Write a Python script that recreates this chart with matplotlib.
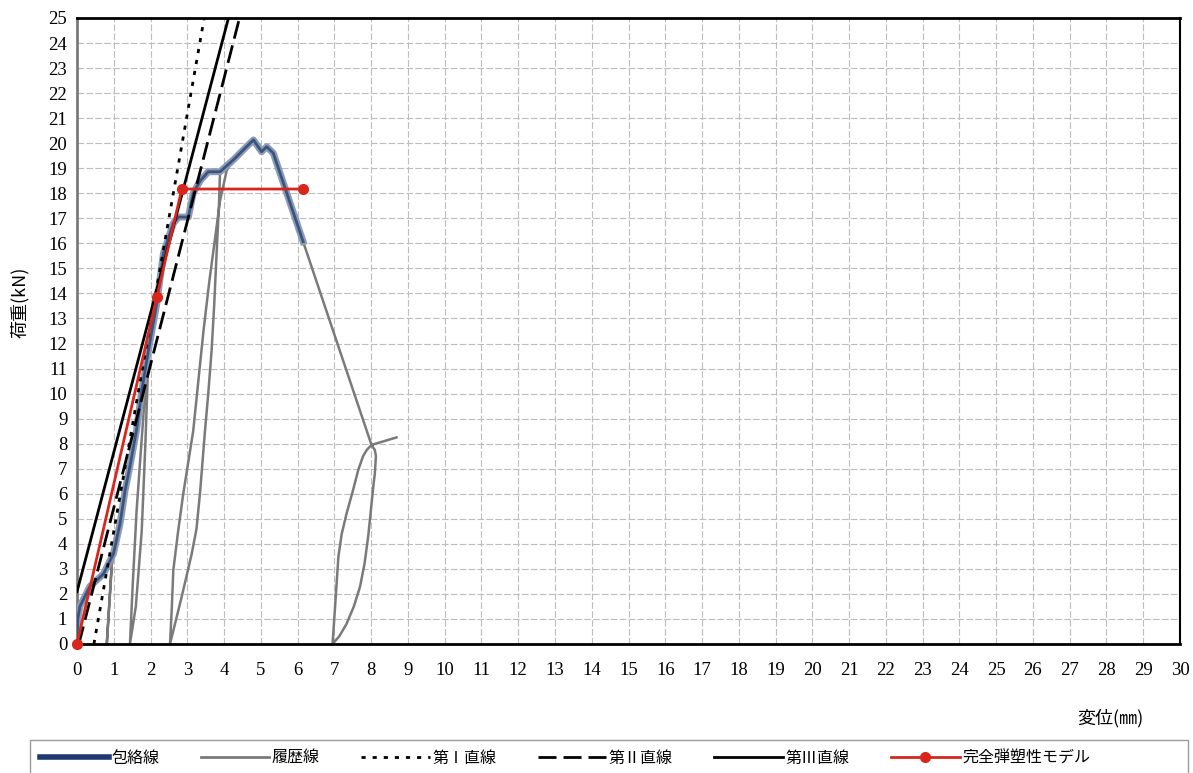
import matplotlib
matplotlib.use("Agg")
import matplotlib.pyplot as plt
from matplotlib.lines import Line2D
from matplotlib.patches import Rectangle

plt.rcParams['font.family'] = ['Liberation Serif', 'Noto Sans CJK JP', 'DejaVu Sans']
JP = ['Noto Sans CJK JP', 'DejaVu Sans']

# 包絡線 (envelope)
env_x = [0, 0.02, 0.08, 0.35, 0.72, 0.99, 1.17, 1.31, 1.44, 1.62, 1.76, 1.94, 2.17, 2.35, 2.62,
         2.76, 3.03, 3.16, 3.35, 3.57, 3.89, 4.25, 4.61, 4.80, 5.02, 5.16, 5.34, 6.15]
env_y = [0, 1.0, 1.5, 2.3, 2.8, 3.6, 4.8, 6.15, 7.1, 8.55, 10.1, 11.7, 13.6, 15.6, 16.8,
         17.05, 17.05, 18.0, 18.5, 18.86, 18.86, 19.33, 19.86, 20.13, 19.66, 19.86, 19.6, 16.07]

# 履歴線 (hysteresis)
hys_x = [0, 0.08, 0.35, 0.72, 0.99, 1.03, 0.94, 0.81, 0.95, 1.08, 1.17, 1.31, 1.44, 1.62, 1.76,
         1.95, 1.86, 1.76, 1.60, 1.44, 1.52, 1.62, 1.75, 1.90, 1.97, 2.17, 2.35, 2.62, 2.76,
         3.03, 3.16, 3.35, 3.57, 3.89, 3.86, 3.80, 3.73, 3.66, 3.57, 3.48, 3.35, 3.25, 3.12,
         2.85, 2.53, 2.58, 2.62, 2.75, 2.89, 3.16, 3.44, 3.60, 3.71, 3.89, 4.07, 4.25, 4.61,
         4.80, 5.02, 5.16, 5.34, 6.15, 8.01, 8.10, 8.13, 8.10, 8.06, 7.99, 7.92, 7.82, 7.70,
         7.53, 7.33, 7.13, 6.95, 7.02, 7.11, 7.20, 7.33, 7.50, 7.65, 7.78, 7.88, 8.01, 8.69]
hys_y = [0, 1.5, 2.3, 2.8, 3.6, 4.2, 3.1, 0, 3.2, 4.5, 4.8, 6.15, 7.1, 8.55, 10.1,
         11.8, 8.0, 4.5, 1.5, 0, 2.5, 5.3, 8.0, 11.0, 11.9, 13.6, 15.6, 16.8, 17.05,
         17.05, 18.0, 18.5, 18.86, 18.86, 17.5, 15.7, 13.5, 11.7, 10.0, 8.5, 6.1, 4.6, 3.6,
         1.9, 0, 1.5, 2.95, 4.5, 6.0, 8.5, 12.5, 14.5, 15.7, 17.7, 18.9, 19.33, 19.86,
         20.13, 19.66, 19.86, 19.6, 16.07, 7.95, 7.75, 7.5, 6.8, 6.3, 5.3, 4.3, 3.2, 2.3,
         1.5, 0.8, 0.3, 0, 1.5, 3.5, 4.4, 5.2, 6.1, 6.95, 7.5, 7.75, 7.95, 8.25]

# 第I・第II・第III直線
line1_x = [0.46, 3.46]
line1_y = [0, 25]
line2_x = [0.05, 4.42]
line2_y = [0, 25]
line3_x = [0, 4.12]
line3_y = [2.09, 25]

# 完全弾塑性モデル
model_x = [0, 2.17, 2.85, 6.15]
model_y = [0, 13.85, 18.17, 18.17]

DOT = (0, (1.5, 2.5))
DASH = (0, (6.5, 2.5))

fig = plt.figure(figsize=(11.93, 7.73), dpi=100)
ax = fig.add_axes([77 / 1193, 1 - 644 / 773, (1180 - 77) / 1193, (644 - 18) / 773])

ax.plot(hys_x, hys_y, color='#7a7a7a', lw=1.8, zorder=2)
ax.plot(env_x, env_y, color='#8d9cb4', lw=5, solid_joinstyle='round', zorder=3)
ax.plot(env_x, env_y, color='#3a5480', lw=2, zorder=3)
ax.plot(line1_x, line1_y, color='black', lw=2, ls=DOT, zorder=4)
ax.plot(line2_x, line2_y, color='black', lw=2, ls=DASH, zorder=4)
ax.plot(line3_x, line3_y, color='black', lw=2, zorder=4)
ax.plot(model_x, model_y, color='#d8261c', lw=2, marker='o', ms=7, zorder=5, clip_on=False)

ax.set_xlim(0, 30)
ax.set_ylim(0, 25)
ax.set_xticks(range(0, 31))
ax.set_yticks(range(0, 26))
ax.grid(True, color='#bdbdbd', lw=0.8, ls=(0, (6, 2)))
ax.set_axisbelow(True)
ax.tick_params(length=0, labelsize=13.5)
ax.tick_params(axis='x', pad=13)
ax.tick_params(axis='y', pad=7)
for s in ['top', 'bottom']:
    ax.spines[s].set_color('black')
    ax.spines[s].set_linewidth(2)
ax.spines['right'].set_color('black')
ax.spines['right'].set_linewidth(1.5)
ax.spines['left'].set_color('#7a7a7a')
ax.spines['left'].set_linewidth(2)

fig.text(20 / 1193, 1 - 302 / 773, '荷重(kN)', rotation=90, ha='center', va='center',
         fontsize=13, family=JP)
fig.text(1110 / 1193, 1 - 718 / 773, '変位(㎜)', ha='center', va='center',
         fontsize=13, family=JP)

# legend frame
fig.patches.append(Rectangle((30 / 1193, -0.01), 1158 / 1193, (773 - 740) / 773 + 0.01,
                             transform=fig.transFigure, fill=False,
                             edgecolor='#9a9a9a', lw=1))

handles = [
    Line2D([], [], color='#1f3a70', lw=4),
    Line2D([], [], color='#7a7a7a', lw=2),
    Line2D([], [], color='black', lw=2, ls=DOT),
    Line2D([], [], color='black', lw=2, ls=DASH),
    Line2D([], [], color='black', lw=2),
    Line2D([], [], color='#d8261c', lw=2, marker='o', ms=7),
]
labels = ['包絡線', '履歴線', '第Ⅰ直線', '第Ⅱ直線', '第Ⅲ直線', '完全弾塑性モデル']
fig.legend(handles, labels, loc='center left', ncol=6,
           bbox_to_anchor=(40 / 1193, 1 - 758 / 773),
           prop={'family': JP, 'size': 11.5}, handlelength=4.3, handletextpad=0.15,
           columnspacing=2.6, numpoints=1, frameon=False, borderaxespad=0, borderpad=0)

fig.savefig('out.png', dpi=100)
